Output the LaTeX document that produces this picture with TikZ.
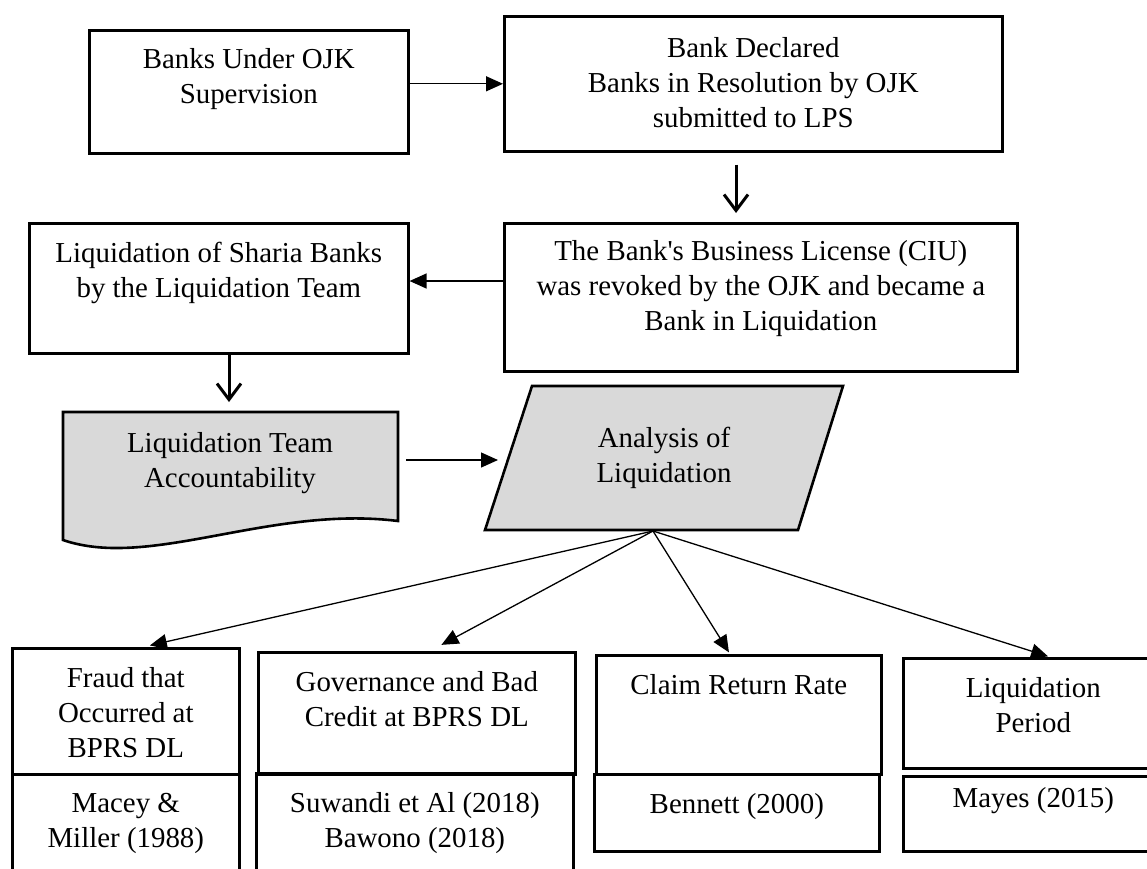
\documentclass[tikz,border=0pt]{standalone}
\usepackage{fontspec}
\setmainfont{Liberation Serif}
\usetikzlibrary{arrows.meta, calc}

\definecolor{shade}{RGB}{217,217,217}

\tikzset{
    flowbox/.style={draw, line width=2.6pt, anchor=north west, inner sep=0pt},
    flowline/.style={line width=2.6pt, line join=miter},
    boxtext/.style={anchor=north, align=center, inner sep=0pt, font=\fontsize{28.9}{35}\selectfont},
    thinarrow/.style={line width=1.3pt, -{Triangle[length=17pt, width=15pt]}},
    bigarrow/.style={line width=3pt, -{Straight Barb[length=16pt, width=24pt, line width=3pt]}}
}

\begin{document}
\begin{tikzpicture}[x=1pt, y=-1pt]

    % 0. Page frame (pixel grid of the figure)
    \useasboundingbox (0,0) rectangle (1147,868);
    \clip (0,0) rectangle (1147,868);

    % 1. Top row: supervision and resolution
    \node[flowbox, minimum width=319pt, minimum height=123pt] (buo) at (88,29) {};
    \node[boxtext, yshift=-19pt] (buo-t) at (buo.north) {Banks Under OJK\\Supervision};

    \node[flowbox, minimum width=498pt, minimum height=135pt] (bdec) at (503,15) {};
    \node[boxtext, yshift=-22pt] (bdec-t) at (bdec.north) {Bank Declared\\Banks in Resolution by OJK\\submitted to LPS};

    % 2. Second row: licence revoked, liquidation
    \node[flowbox, minimum width=513pt, minimum height=148pt] (lic) at (503,222) {};
    \node[boxtext, yshift=-18pt] (lic-t) at (lic.north) {The Bank\textquotesingle s Business License (CIU)\\was revoked by the OJK and became a\\Bank in Liquidation};

    \node[flowbox, minimum width=379pt, minimum height=130pt] (liq) at (28,222) {};
    \node[boxtext, yshift=-20pt] (liq-t) at (liq.north) {Liquidation of Sharia Banks\\by the Liquidation Team};

    % 3. Accountability (document shape) and analysis (parallelogram)
    \draw[flowline, fill=shade] (63,412) -- (398,412) -- (398,521)
        .. controls (270,505) and (150,570) .. (63,540) -- cycle;
    \coordinate (acc-top) at (229,412);
    \coordinate (acc-right) at (398,460);
    \node[boxtext] (acc) at (230,432) {Liquidation Team\\Accountability};

    \draw[flowline, fill=shade] (485,530) -- (532,386) -- (843,386) -- (798,530) -- cycle;
    \coordinate (anl-left) at (508,460);
    \coordinate (fan) at (653,531);
    \node[boxtext, anchor=center] (anl) at (664,458) {Analysis of\\Liquidation};

    % 4. Bottom row: findings (upper) and sources (lower)
    \node[flowbox, minimum width=227pt, minimum height=126pt] (fraud) at (11,647) {};
    \node[boxtext, yshift=-20pt] (fraud-t) at (fraud.north) {Fraud that\\Occurred at\\BPRS DL};
    \node[flowbox, minimum width=227pt, minimum height=130pt] (macey) at (11,773) {};
    \node[boxtext, yshift=-20pt] (macey-t) at (macey.north) {Macey \&\\Miller (1988)};

    \node[flowbox, minimum width=317pt, minimum height=122pt] (gov) at (257,651) {};
    \node[boxtext, yshift=-20pt] (gov-t) at (gov.north) {Governance and Bad\\Credit at BPRS DL};
    \node[flowbox, minimum width=317pt, minimum height=130pt] (suw) at (255,772) {};
    \node[boxtext, yshift=-20pt] (suw-t) at (suw.north) {Suwandi et Al (2018)\\Bawono (2018)};

    \node[flowbox, minimum width=285pt, minimum height=119pt] (claim) at (595,654) {};
    \node[boxtext, yshift=-20pt] (claim-t) at (claim.north) {Claim Return Rate};
    \node[flowbox, minimum width=285pt, minimum height=77pt] (ben) at (593,773) {};
    \node[boxtext, yshift=-20pt] (ben-t) at (ben.north) {Bennett (2000)};

    \node[flowbox, minimum width=260pt, minimum height=110pt] (period) at (902,657) {};
    \node[boxtext, yshift=-20pt] (period-t) at (period.north) {Liquidation\\Period};
    \node[flowbox, minimum width=260pt, minimum height=75pt] (mayes) at (902,775) {};
    \node[boxtext, yshift=-12pt] (mayes-t) at (mayes.north) {Mayes (2015)};

    % 5. Connectors
    \draw[thinarrow] (buo.east |- bdec.west) -- (bdec.west);
    \draw[bigarrow, shorten <=12pt, shorten >=9pt] (bdec.south -| 736,0) -- (lic.north -| 736,0);
    \draw[thinarrow] (lic.west |- 0,281) -- (liq.east |- 0,281);
    \draw[bigarrow, shorten >=10pt] (liq.south -| acc-top) -- (acc-top);
    \draw[thinarrow, shorten <=8pt, shorten >=10pt] (acc-right) -- (anl-left);

    % fan out from the analysis to the four findings
    \draw[thinarrow, shorten >=7pt] (fan) -- (fraud.north -| 143,0);
    \draw[thinarrow, shorten >=13pt] (fan) -- (gov.north -| 430,0);
    \draw[thinarrow, shorten >=2pt] (fan) -- (claim.north -| 730,0);
    \draw[thinarrow, shorten >=2pt] (fan) -- (period.north -| 1050,0);

\end{tikzpicture}
\end{document}
